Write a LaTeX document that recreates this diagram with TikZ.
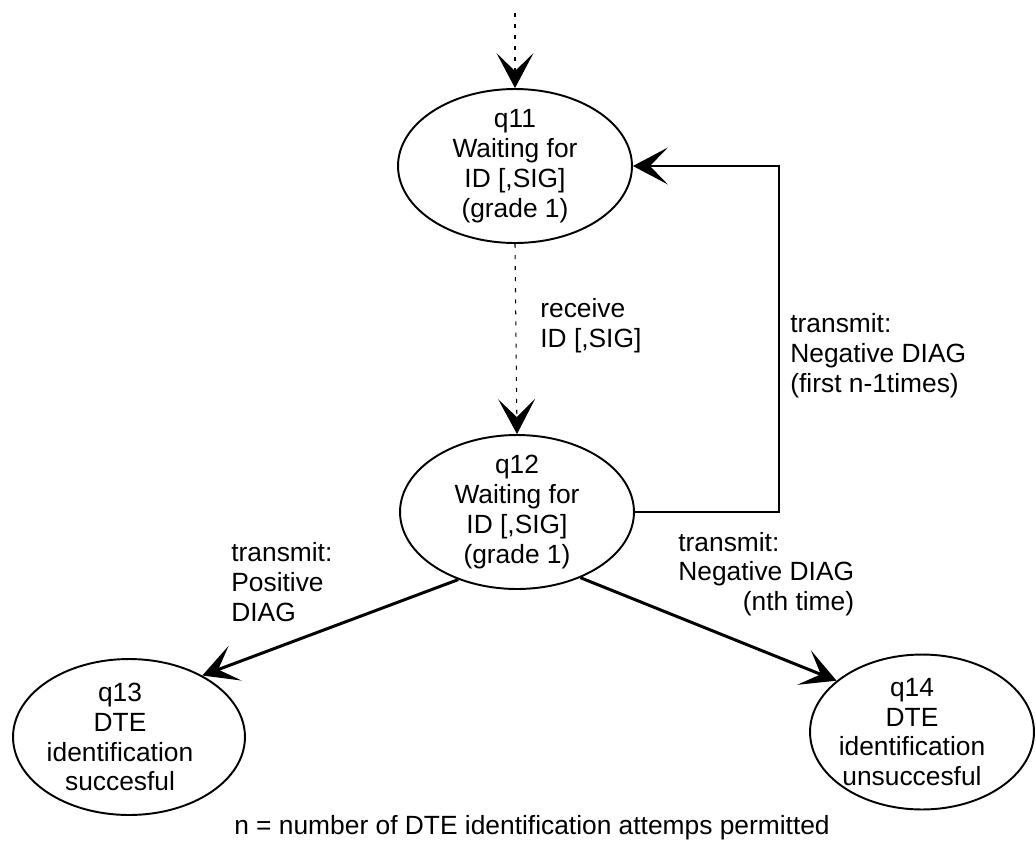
\documentclass[tikz,border=0pt]{standalone}
\usepackage{fontspec}
\setmainfont{Liberation Sans}
\usetikzlibrary{shapes.geometric,arrows.meta}
\tikzset{
  estado/.style={draw, ellipse, line width=1.1pt, inner sep=0pt,
    minimum width=4.68cm, minimum height=3.08cm},
  texto/.style={align=center, inner sep=0pt},
  flecha/.style={-{Stealth[length=0.7cm, width=0.74cm, inset=0.36cm]}},
  punteada/.style={line width=0.6pt, dash pattern=on 2.3pt off 4pt},
}
\begin{document}
\begin{tikzpicture}[x=0.02cm, y=-0.02cm,
    every node/.style={font=\fontsize{15pt}{17pt}\selectfont}]
    \useasboundingbox (0,0) rectangle (1036,843);
    % Los estados del protocolo de identificación.
    \node[estado, label={[texto]center:{q11\\Waiting for\\ID [,SIG]\\(grade 1)}}] (q11) at (515,166) {};
    \node[estado, label={[texto]center:{q12\\Waiting for\\ID [,SIG]\\(grade 1)}}] (q12) at (517,512) {};
    \node[estado, minimum width=4.64cm, minimum height=3.12cm,
        label={[texto, xshift=-0.18cm]center:{q13\\DTE\\identification\\succesful}}] (q13) at (129,737) {};
    \node[estado, minimum width=4.48cm, minimum height=3.1cm,
        label={[texto, xshift=-0.2cm]center:{q14\\DTE\\identification\\unsuccesful}}] (q14) at (922,732) {};
    \coordinate (inicio) at (515,13);
    % Transiciones.
    \draw[flecha, punteada] (inicio) -- (q11.north);
    \draw[flecha, punteada] (q11.south) -- (q12.north);
    \draw[flecha, line width=0.7pt] (q12.east) -- ++(144,0) |- (q11.east);
    \draw[flecha, line width=1.7pt] (q12.229) -- (q13.40);
    \draw[flecha, line width=1.7pt] (q12.314) -- (q14.149);
    \node[texto, anchor=west, align=left] (recibir) at (540,326) {receive\\ID [,SIG]};
    \node[texto, anchor=west, align=left] (repetir) at (790,356) {transmit:\\Negative DIAG\\(first n-1times)};
    \node[texto, anchor=west, align=left] (positivo) at (231,582) {transmit:\\Positive\\DIAG};
    \node[texto, anchor=west] (ultimo) at (678,575)
        {\begin{tabular}{@{}l@{}}transmit:\\Negative DIAG\\\hfill(nth time)\end{tabular}};
    \node[texto] (nota) at (532,828) {n = number of DTE identification attemps permitted};
\end{tikzpicture}
\end{document}
